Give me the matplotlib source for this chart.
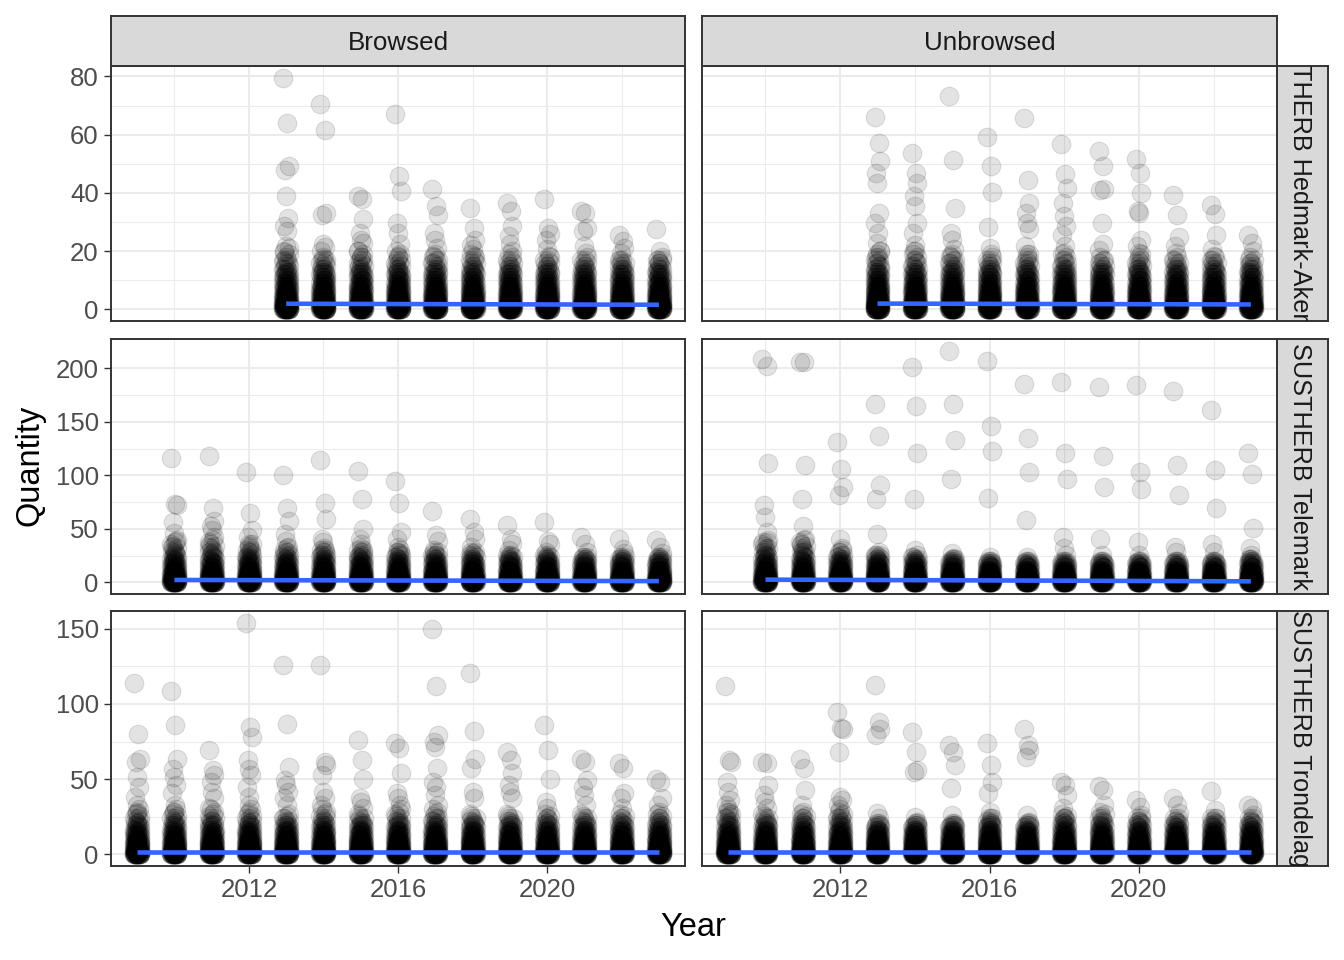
import numpy as np
import matplotlib
matplotlib.use("Agg")
import matplotlib.pyplot as plt
from matplotlib.ticker import FixedLocator

plt.rcParams['font.family'] = ['Liberation Sans', 'DejaVu Sans']

# ---------------- data ----------------
COLUMNS = ["Browsed", "Unbrowsed"]
ROWS = ["SUSTHERB Hedmark-Akershus", "SUSTHERB Telemark", "SUSTHERB Trondelag"]

YEARS_HED = [2013, 2014, 2015, 2016, 2017, 2018, 2019, 2020, 2021, 2022, 2023]
YEARS_TEL = [2010, 2011, 2012, 2013, 2014, 2015, 2016, 2017, 2018, 2019, 2020, 2021, 2022, 2023]
YEARS_TRO = [2009, 2010, 2011, 2012, 2013, 2014, 2015, 2016, 2017, 2018, 2019, 2020, 2021, 2022, 2023]

# visible (sparser) values per year
HIGH_HED_BROWSED = [
    [79.6, 64.1, 49.2, 48.0, 39.1, 31.5, 28.6, 26.9, 21.7, 21.0, 19.6, 16.5],
    [70.4, 61.5, 33.2, 32.5, 22.3, 21.5, 20.0, 17.2],
    [38.9, 38.0, 30.9, 26.3, 24.0, 22.9, 20.0, 18.0],
    [67.0, 45.8, 40.6, 29.8, 26.3, 22.3, 20.0, 18.5],
    [41.4, 35.5, 32.3, 26.3, 23.7, 21.0, 18.5],
    [34.9, 28.0, 24.0, 22.0, 20.6, 18.5],
    [36.6, 33.8, 28.6, 25.2, 22.3, 20.0],
    [38.0, 28.0, 26.0, 24.0, 20.6, 18.5],
    [33.8, 33.0, 28.0, 26.9, 21.7, 19.5],
    [25.7, 23.5, 21.0, 19.5, 17.0],
    [27.5, 20.0, 18.0, 17.0],
]
HIGH_HED_UNBROWSED = [
    [66.2, 57.2, 50.9, 46.9, 43.5, 33.2, 29.8, 26.3, 22.9, 20.0, 18.0],
    [53.6, 46.9, 43.5, 38.9, 35.5, 29.8, 26.3, 22.0, 20.0],
    [73.2, 51.2, 34.7, 26.3, 24.0, 20.6, 18.5],
    [59.3, 49.4, 40.3, 28.4, 21.2, 19.0],
    [65.8, 44.6, 36.6, 33.2, 29.8, 27.5, 21.7, 19.0],
    [56.9, 46.6, 41.8, 36.6, 32.2, 28.6, 25.7, 21.7, 19.5],
    [54.4, 49.2, 41.2, 40.9, 29.8, 22.3, 20.5],
    [51.7, 46.9, 40.1, 33.8, 33.2, 24.0, 21.7, 19.5],
    [39.3, 32.3, 25.0, 21.7, 19.5],
    [36.0, 32.6, 25.7, 20.6, 18.5],
    [25.7, 22.9, 20.0, 18.0],
]
HIGH_TEL_BROWSED = [
    [116.6, 73.0, 72.0, 56.0, 46.0, 39.0, 33.0, 27.0, 21.0],
    [118.4, 69.3, 57.7, 53.0, 48.5, 42.0, 33.0, 27.0],
    [102.8, 64.7, 48.5, 42.0, 36.0, 30.0, 24.0],
    [100.6, 69.3, 57.7, 45.4, 39.0, 33.0, 27.0],
    [114.4, 74.5, 59.2, 40.8, 37.7, 30.0, 25.5],
    [104.3, 78.2, 50.0, 40.8, 36.0, 30.0, 24.0],
    [95.0, 74.5, 47.0, 40.8, 33.0, 27.0],
    [66.9, 43.9, 39.0, 30.0, 25.5],
    [59.2, 47.0, 40.8, 33.0, 27.0],
    [54.0, 40.8, 36.0, 30.0, 25.0],
    [56.7, 39.0, 36.0, 28.5, 24.0],
    [42.3, 36.0, 28.5, 24.0],
    [40.8, 31.6, 27.0, 23.0],
    [39.3, 33.0, 27.0, 24.0],
]
HIGH_TEL_UNBROWSED = [
    [208.7, 202.5, 111.5, 72.7, 61.2, 47.2, 37.9, 31.7, 25.5],
    [206.2, 205.6, 109.3, 77.6, 52.8, 41.0, 34.8, 28.6],
    [131.0, 105.6, 89.0, 81.4, 41.0, 31.7],
    [166.8, 136.3, 90.7, 78.3, 45.0, 28.6, 25.5],
    [200.9, 165.2, 121.1, 78.3, 30.1, 25.5],
    [216.5, 166.8, 133.2, 96.9, 27.0, 22.4],
    [207.1, 146.0, 122.4, 78.9, 23.9],
    [185.4, 135.1, 103.1, 58.1, 23.9],
    [187.6, 121.1, 96.9, 42.5, 31.7, 25.5],
    [182.3, 118.0, 89.1, 41.0, 25.5],
    [184.5, 103.1, 87.0, 37.9, 25.5],
    [178.3, 109.9, 81.4, 33.2, 28.6],
    [160.6, 104.7, 69.9, 36.3, 28.6],
    [121.1, 101.6, 51.2, 31.7, 25.5],
]
HIGH_TRO_BROWSED = [
    [114.2, 80.3, 63.7, 61.5, 51.5, 44.9, 38.3, 32.7, 27.2],
    [108.8, 85.8, 63.7, 57.0, 51.5, 46.0, 40.5, 32.7, 28.3],
    [69.2, 56.0, 52.7, 48.2, 41.6, 37.2, 30.5],
    [154.0, 84.7, 78.1, 62.6, 57.0, 52.7, 44.9, 38.3, 32.7],
    [126.1, 86.5, 58.2, 49.3, 46.0, 41.6, 37.2, 32.7],
    [125.7, 61.5, 59.3, 52.7, 41.6, 37.2, 32.7],
    [75.9, 62.6, 50.4, 37.2, 35.0, 30.5],
    [73.7, 70.4, 53.8, 40.5, 37.2, 32.7],
    [149.6, 111.7, 79.2, 74.8, 71.5, 57.1, 48.2, 44.9, 39.4, 32.7],
    [120.8, 81.9, 63.7, 57.1, 41.6, 37.2],
    [68.1, 62.6, 53.8, 46.0, 41.6, 37.2],
    [86.3, 69.2, 50.4, 35.0, 30.5],
    [63.7, 61.5, 49.3, 44.9, 39.4, 32.7],
    [60.8, 57.1, 40.5, 37.2, 30.5],
    [50.4, 48.2, 37.2, 32.7, 28.3],
]
HIGH_TRO_UNBROWSED = [
    [111.7, 62.6, 61.5, 48.2, 41.6, 36.1, 32.7, 28.3],
    [61.5, 60.4, 46.0, 39.4, 35.0, 30.5],
    [63.3, 57.1, 42.7, 32.7, 28.3],
    [94.7, 84.1, 83.0, 68.1, 38.3, 36.1, 32.7, 23.9],
    [112.4, 88.1, 83.2, 79.2, 27.2, 23.9],
    [81.4, 68.1, 56.0, 54.9, 25.0, 21.7],
    [72.6, 68.1, 59.7, 43.8, 26.1, 19.5],
    [74.1, 59.7, 48.2, 40.5, 28.3, 23.9],
    [83.6, 72.6, 69.2, 64.8, 26.1, 21.7],
    [48.2, 46.0, 39.4, 30.5, 23.9],
    [45.4, 42.7, 32.7, 28.3],
    [36.1, 31.6, 26.1],
    [37.6, 32.7, 27.2],
    [42.3, 29.4, 23.9],
    [32.7, 30.5, 26.1],
]

# dense low-value clusters: value levels and how many observations sit at each
DENSE_LEVELS_HED = [0, 1, 2, 3, 4, 5, 6, 7, 8, 9, 10, 11, 12, 13, 14, 15, 16, 17, 18, 19, 20]
DENSE_COUNTS_HED = [25, 18, 14, 12, 10, 9, 8, 7, 6, 5, 5, 4, 4, 3, 3, 2, 2, 2, 1, 1, 1]
DENSE_LEVELS_TEL = [0, 2, 4, 6, 8, 10, 12, 14, 16, 18, 20, 22, 24, 26, 28, 30, 32, 34, 36, 38, 40]
DENSE_COUNTS_TEL = [25, 16, 12, 10, 8, 7, 6, 5, 4, 4, 3, 3, 2, 2, 2, 1, 1, 1, 1, 1, 1]
DENSE_LEVELS_TRO = [0, 1.5, 3, 4.5, 6, 7.5, 9, 10.5, 12, 13.5, 15, 16.5, 18, 19.5, 21, 22.5, 24, 25.5, 27, 28.5, 30]
DENSE_COUNTS_TRO = [25, 16, 13, 11, 9, 8, 7, 6, 5, 5, 4, 4, 3, 3, 2, 2, 2, 1, 1, 1, 1]

# upper reach of the dense cluster per year
CAP_HED_BROWSED = [20, 18, 20, 19, 19, 19, 19, 18, 18, 17, 17]
CAP_HED_UNBROWSED = [20, 20, 19, 18, 19, 19, 18, 19, 18, 18, 17]
CAP_TEL_BROWSED = [40, 40, 36, 32, 32, 32, 30, 28, 28, 26, 26, 24, 24, 24]
CAP_TEL_UNBROWSED = [40, 40, 30, 26, 24, 22, 20, 20, 20, 20, 20, 20, 20, 22]
CAP_TRO_BROWSED = [30, 30, 30, 30, 28, 30, 28, 30, 30, 28, 28, 28, 27, 27, 27]
CAP_TRO_UNBROWSED = [30, 28, 28, 30, 22, 22, 22, 24, 22, 27, 27, 24, 24, 24, 24]

# fitted trend line: value at first and last year
LINE_HED_BROWSED = [1.95, 1.6]
LINE_HED_UNBROWSED = [2.0, 1.7]
LINE_TEL_BROWSED = [2.3, 1.2]
LINE_TEL_UNBROWSED = [2.6, 1.0]
LINE_TRO_BROWSED = [1.8, 1.8]
LINE_TRO_UNBROWSED = [1.3, 1.3]

X_MAJOR = [2012, 2016, 2020]
X_MINOR = [2010, 2014, 2018, 2022]
Y_MAJOR = [[0, 20, 40, 60, 80], [0, 50, 100, 150, 200], [0, 50, 100, 150]]
Y_MINOR = [[10, 30, 50, 70], [25, 75, 125, 175], [25, 75, 125]]

PANELS = [
    [(YEARS_HED, HIGH_HED_BROWSED, CAP_HED_BROWSED, DENSE_LEVELS_HED, DENSE_COUNTS_HED, LINE_HED_BROWSED),
     (YEARS_HED, HIGH_HED_UNBROWSED, CAP_HED_UNBROWSED, DENSE_LEVELS_HED, DENSE_COUNTS_HED, LINE_HED_UNBROWSED)],
    [(YEARS_TEL, HIGH_TEL_BROWSED, CAP_TEL_BROWSED, DENSE_LEVELS_TEL, DENSE_COUNTS_TEL, LINE_TEL_BROWSED),
     (YEARS_TEL, HIGH_TEL_UNBROWSED, CAP_TEL_UNBROWSED, DENSE_LEVELS_TEL, DENSE_COUNTS_TEL, LINE_TEL_UNBROWSED)],
    [(YEARS_TRO, HIGH_TRO_BROWSED, CAP_TRO_BROWSED, DENSE_LEVELS_TRO, DENSE_COUNTS_TRO, LINE_TRO_BROWSED),
     (YEARS_TRO, HIGH_TRO_UNBROWSED, CAP_TRO_UNBROWSED, DENSE_LEVELS_TRO, DENSE_COUNTS_TRO, LINE_TRO_UNBROWSED)],
]

# ---------------- layout ----------------
W, H = 1344, 960
fig = plt.figure(figsize=(W / 100, H / 100), dpi=100)
fig.patch.set_facecolor('white')


def px_axes(x0, y0, x1, y1):
    return fig.add_axes([x0 / W, 1 - y1 / H, (x1 - x0) / W, (y1 - y0) / H])


COL_X = [(111, 685), (702, 1277)]
ROW_Y = [(66, 321), (339, 594), (611, 866)]
STRIP_TOP = (16, 66)
STRIP_RIGHT = (1277, 1328)

BORDER = '#333333'
GRID = '#EBEBEB'
STRIP_FILL = '#D9D9D9'
TICK_TXT = '#4D4D4D'
FS_TICK = 18.5
FS_STRIP = 18.7
FS_STRIP_R = 18.2
FS_TITLE = 23.5

JIT = np.array([-0.08, 0.03, 0.07, -0.03, 0.0, 0.05, -0.06, 0.01, -0.01, 0.08, -0.05])


def style_box(ax):
    for sp in ax.spines.values():
        sp.set_color(BORDER)
        sp.set_linewidth(1.4)


for r in range(3):
    # shared row y-range (free scales per row)
    allv = [v for c in range(2) for yl in PANELS[r][c][1] for v in yl]
    ymax = max(allv)
    ymin = 0.0
    rng = ymax - ymin
    ylim = (ymin - 0.05 * rng, ymax + 0.05 * rng)
    for c in range(2):
        years, high, caps, levels, counts, line = PANELS[r][c]
        ax = px_axes(COL_X[c][0], ROW_Y[r][0], COL_X[c][1], ROW_Y[r][1])
        ax.set_facecolor('white')
        style_box(ax)
        xs, ys = [], []
        for yr, hv, cap in zip(years, high, caps):
            vals = list(hv)
            for lv, cn in zip(levels, counts):
                if lv <= cap:
                    vals.extend([lv] * cn)
            vals = np.array(vals, dtype=float)
            off = np.resize(JIT, len(vals))
            xs.append(yr + off)
            ys.append(vals)
        xs = np.concatenate(xs)
        ys = np.concatenate(ys)
        ax.scatter(xs, ys, s=180, facecolor=(0, 0, 0, 0.11), edgecolor=(0, 0, 0, 0.11),
                   linewidths=0.8, zorder=2)
        ax.plot([years[0], years[-1]], line, color='#3366FF', lw=3.3,
                solid_capstyle='butt', zorder=3)
        ax.set_xlim(2008.3, 2023.7)
        ax.set_ylim(*ylim)
        ax.xaxis.set_major_locator(FixedLocator(X_MAJOR))
        ax.xaxis.set_minor_locator(FixedLocator(X_MINOR))
        ax.yaxis.set_major_locator(FixedLocator(Y_MAJOR[r]))
        ax.yaxis.set_minor_locator(FixedLocator(Y_MINOR[r]))
        ax.set_axisbelow(True)
        ax.grid(which='major', color=GRID, lw=1.5, zorder=0)
        ax.grid(which='minor', color=GRID, lw=0.75, zorder=0)
        ax.tick_params(which='minor', length=0)
        ax.tick_params(which='major', length=5.3, width=1.0, color=BORDER,
                       labelsize=FS_TICK, labelcolor=TICK_TXT, pad=3.6)
        if c == 0:
            ax.set_yticklabels([str(v) for v in Y_MAJOR[r]])
        else:
            ax.tick_params(axis='y', which='major', length=0, labelleft=False)
        if r == 2:
            ax.set_xticklabels([str(v) for v in X_MAJOR])
        else:
            ax.tick_params(axis='x', which='major', length=0, labelbottom=False)

    # right strip (label clipped to the strip, as in the original)
    sax = px_axes(STRIP_RIGHT[0], ROW_Y[r][0], STRIP_RIGHT[1], ROW_Y[r][1])
    sax.set_facecolor(STRIP_FILL)
    style_box(sax)
    sax.set_xticks([])
    sax.set_yticks([])
    sax.text(0.45, 0.5, ROWS[r], transform=sax.transAxes, rotation=-90,
             ha='center', va='center', fontsize=FS_STRIP_R, color='#1A1A1A', clip_on=True)

for c in range(2):
    sax = px_axes(COL_X[c][0], STRIP_TOP[0], COL_X[c][1], STRIP_TOP[1])
    sax.set_facecolor(STRIP_FILL)
    style_box(sax)
    sax.set_xticks([])
    sax.set_yticks([])
    sax.text(0.5, 0.45, COLUMNS[c], transform=sax.transAxes, ha='center', va='center',
             fontsize=FS_STRIP, color='#1A1A1A', clip_on=True)

fig.text(693 / W, 1 - 928 / H, "Year", ha='center', va='center', fontsize=FS_TITLE, color='black')
fig.text(30 / W, 1 - 465 / H, "Quantity", ha='center', va='center', rotation=90,
         fontsize=FS_TITLE, color='black')

fig.savefig("out.png", dpi=100, facecolor='white')
